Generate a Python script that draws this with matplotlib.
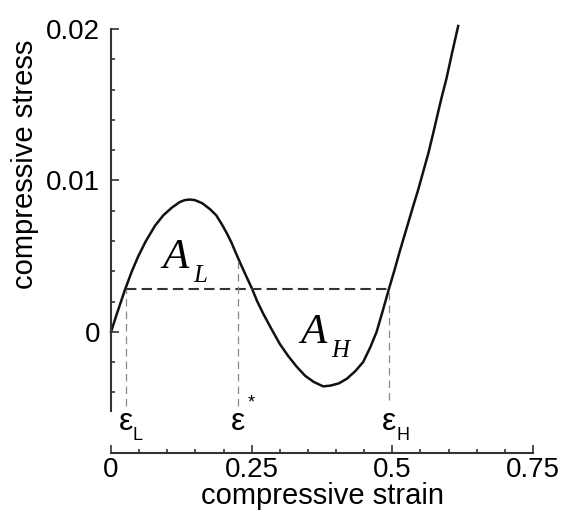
import matplotlib
matplotlib.use('Agg')
import matplotlib.pyplot as plt
from matplotlib.ticker import FixedLocator, MultipleLocator, FuncFormatter
import numpy as np

# stress-strain curve (non-monotonic loading path)
strain = [0.0, 0.010, 0.025, 0.037, 0.0485, 0.062, 0.078, 0.093, 0.108, 0.122,
          0.131, 0.140, 0.149, 0.162, 0.176, 0.187, 0.197, 0.206, 0.214, 0.222,
          0.229, 0.240, 0.250, 0.260, 0.2705, 0.285, 0.300, 0.315, 0.330, 0.345,
          0.360, 0.377, 0.390, 0.405, 0.419, 0.434, 0.448, 0.461, 0.472, 0.483,
          0.494, 0.504, 0.513, 0.525, 0.537, 0.546, 0.555, 0.564, 0.5725, 0.580,
          0.587, 0.596, 0.606, 0.617]
stress = [0.0, 0.00115, 0.0028, 0.0040, 0.0050, 0.0060, 0.0070, 0.0077, 0.0082, 0.00857,
          0.0087, 0.00874, 0.0087, 0.0085, 0.0081, 0.0077, 0.0071, 0.0065, 0.0059, 0.0052,
          0.0046, 0.0037, 0.0029, 0.0020, 0.0012, 0.0002, -0.0008, -0.0016, -0.0023, -0.0029,
          -0.0033, -0.0036, -0.00355, -0.0034, -0.0031, -0.0026, -0.0020, -0.0010, 0.0, 0.0014,
          0.00285, 0.0041, 0.0053, 0.0068, 0.0083, 0.0094, 0.0106, 0.0118, 0.0131, 0.0143,
          0.0154, 0.0167, 0.0184, 0.0202]

# Maxwell line and the three characteristic strains
eps_L, eps_star, eps_H = 0.026, 0.226, 0.494
sigma_eq = 0.00285

x_ticks = [0, 0.25, 0.5, 0.75]
y_ticks = [0, 0.01, 0.02]
y_minor = [-0.004, -0.002, 0.002, 0.004, 0.006, 0.008, 0.012, 0.014, 0.016, 0.018]

plt.rcParams['font.family'] = ['Liberation Sans', 'DejaVu Sans']

fig = plt.figure(figsize=(5.65, 5.11), dpi=100)
ax = fig.add_axes([0.1965, 0.1135, 0.7469, 0.8297])

ax.plot(strain, stress, color='#111111', lw=1.8, clip_on=False,
        solid_joinstyle='round')
ax.plot([eps_L, eps_H], [sigma_eq, sigma_eq], color='#333333', lw=1.5, dashes=(5, 2.5))

line_bottom = -0.0049
tops = [sigma_eq, np.interp(eps_star, strain, stress), sigma_eq]
bottoms = [line_bottom, line_bottom, -0.0045]
for e, top, bot in zip([eps_L, eps_star, eps_H], tops, bottoms):
    ax.plot([e, e], [bot, top], color='#888888', lw=0.9, dashes=(6, 4))

# strain labels under the dashed drops
eps_y = -0.00647
sub_y = -0.00713
ax.text(eps_L, eps_y, '\u03b5', fontsize=23, ha='center', va='baseline')
ax.text(eps_L + 0.012, sub_y, 'L', fontsize=13, ha='left', va='baseline')
ax.text(eps_star, eps_y, '\u03b5', fontsize=23, ha='center', va='baseline')
ax.text(eps_star + 0.017, -0.0047, '*', fontsize=13, ha='left', va='center')
ax.text(eps_H, eps_y, '\u03b5', fontsize=23, ha='center', va='baseline')
ax.text(eps_H + 0.013, sub_y, 'H', fontsize=13, ha='left', va='baseline')

# area labels
serif = dict(family='Liberation Serif', style='italic')
ax.text(0.092, 0.00423, 'A', fontsize=31, ha='left', va='baseline', **serif)
ax.text(0.147, 0.0033, 'L', fontsize=18, ha='left', va='baseline', **serif)
ax.text(0.336, -0.00073, 'A', fontsize=31, ha='left', va='baseline', **serif)
ax.text(0.392, -0.00165, 'H', fontsize=18, ha='left', va='baseline', **serif)

ax.set_xlim(0, 0.75)
ax.set_ylim(-0.008, 0.02)
for side in ['top', 'right']:
    ax.spines[side].set_visible(False)
ax.spines['left'].set_bounds(-0.0052, 0.02)
ax.spines['bottom'].set_bounds(0, 0.75)
for side in ['left', 'bottom']:
    ax.spines[side].set_linewidth(1.5)
    ax.spines[side].set_color('#333333')

ax.xaxis.set_major_locator(FixedLocator(x_ticks))
ax.xaxis.set_minor_locator(MultipleLocator(0.05))
ax.yaxis.set_major_locator(FixedLocator(y_ticks))
ax.yaxis.set_minor_locator(FixedLocator(y_minor))
fmt = FuncFormatter(lambda v, pos: f'{v:g}')
ax.xaxis.set_major_formatter(fmt)
ax.yaxis.set_major_formatter(fmt)

ax.tick_params(which='both', direction='in', width=1.2, color='#333333', labelsize=20)
ax.tick_params(which='major', length=6)
ax.tick_params(which='minor', length=3)
ax.tick_params(axis='y', pad=8)
ax.tick_params(axis='x', pad=3)

ax.set_xlabel('compressive strain', fontsize=21, labelpad=-1)
ax.set_ylabel('compressive stress', fontsize=21)
ax.yaxis.set_label_coords(-0.17, 0.68)

fig.savefig('out.png', dpi=100)
